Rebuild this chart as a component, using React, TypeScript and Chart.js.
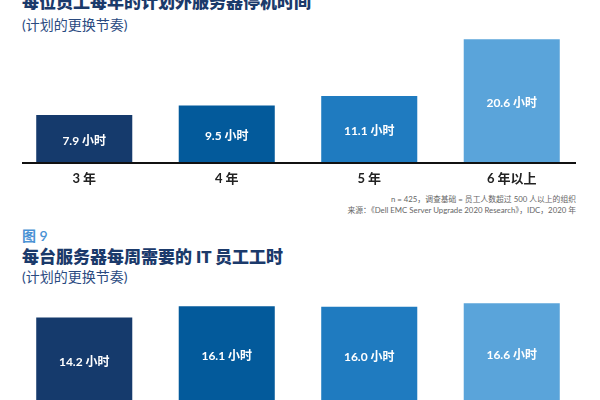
import React, { useEffect, useRef } from "react";
import { Chart, registerables } from "chart.js";

Chart.register(...registerables);

// ---- data ----
const categories = ["3 年", "4 年", "5 年", "6 年以上"];
const downtimeHours = [7.9, 9.5, 11.1, 20.6];
const staffHours = [14.2, 16.1, 16.0, 16.6];
const barColors = ["#153a6c", "#035a9b", "#1f7bc0", "#5aa4da"];
const unitLabel = "小时";
const yMax = 22;

const title1 = "每位员工每年的计划外服务器停机时间";
const subtitle = "(计划的更换节奏)";
const figLabel = "图 9";
const title2 = "每台服务器每周需要的 IT 员工工时";
const note1 = "n = 425，调查基础 = 员工人数超过 500 人以上的组织";
const note2 = "来源：《Dell EMC Server Upgrade 2020 Research》，IDC，2020 年";

const FONT = "Lato, 'Noto Sans CJK SC', sans-serif";

const valueLabels = {
  id: "valueLabels",
  afterDatasetsDraw(chart: any) {
    const meta = chart.getDatasetMeta(0);
    const ctx = chart.ctx;
    ctx.save();
    ctx.font = `bold 12px ${FONT}`;
    ctx.fillStyle = "#ffffff";
    ctx.textAlign = "center";
    ctx.textBaseline = "middle";
    meta.data.forEach((bar: any, i: number) => {
      const v = chart.data.datasets[0].data[i] as number;
      ctx.fillText(`${v.toFixed(1)} ${unitLabel}`, bar.x, (bar.y + bar.base) / 2 + 2.5);
    });
    ctx.restore();
  },
};

const baseline = {
  id: "baseline",
  afterDatasetsDraw(chart: any) {
    const { ctx, chartArea } = chart;
    const y = chart.scales.y.getPixelForValue(0) + 1;
    ctx.save();
    ctx.strokeStyle = "#111111";
    ctx.lineWidth = 2;
    ctx.beginPath();
    ctx.moveTo(chartArea.left + 9, y);
    ctx.lineTo(chartArea.right - 7, y);
    ctx.stroke();
    ctx.restore();
  },
};

function makeConfig(values: number[]): any {
  return {
    type: "bar",
    data: {
      labels: categories,
      datasets: [
        {
          data: values,
          backgroundColor: barColors,
          borderWidth: 0,
          categoryPercentage: 1,
          barPercentage: 0.674,
        },
      ],
    },
    options: {
      animation: false,
      responsive: false,
      devicePixelRatio: 1,
      layout: { padding: { top: 31, left: 13, right: 17, bottom: 0 } },
      plugins: { legend: { display: false }, tooltip: { enabled: false } },
      scales: {
        x: {
          grid: { display: false, drawTicks: false },
          border: { display: false },
          ticks: {
            font: { family: FONT, size: 13, weight: "bold" },
            color: "#222222",
            padding: 9,
          },
          afterFit: (s: any) => {
            s.height = 30;
          },
        },
        y: { display: false, min: 0, max: yMax },
      },
    },
    plugins: [valueLabels, baseline],
  };
}

function BarChart({ values, top }: { values: number[]; top: number }) {
  const ref = useRef<HTMLCanvasElement | null>(null);
  useEffect(() => {
    if (!ref.current) return;
    const chart = new Chart(ref.current, makeConfig(values));
    return () => chart.destroy();
  }, [values]);
  return (
    <canvas
      ref={ref}
      width={600}
      height={192}
      style={{ position: "absolute", left: 0, top, width: 600, height: 192, display: "block" }}
    />
  );
}

const textBase: React.CSSProperties = {
  position: "absolute",
  fontFamily: FONT,
  whiteSpace: "nowrap",
  margin: 0,
};

export default function App() {
  return (
    <div
      style={{
        position: "absolute",
        left: 0,
        top: 0,
        width: 600,
        height: 400,
        overflow: "hidden",
        background: "#ffffff",
      }}
    >
      <div style={{ ...textBase, left: 22, top: -7.5, fontSize: 17, lineHeight: "17px", fontWeight: 800, color: "#1b3a6b" }}>{title1}</div>
      <div style={{ ...textBase, left: 22, top: 17.5, fontSize: 14, lineHeight: "14px", color: "#2a4a7f" }}>{subtitle}</div>
      <BarChart values={downtimeHours} top={0} />
      <div style={{ ...textBase, right: 24, top: 195, fontSize: 7.8, lineHeight: "8px", color: "#666666", textAlign: "right" }}>{note1}</div>
      <div style={{ ...textBase, right: 24, top: 206, fontSize: 7.8, lineHeight: "8px", color: "#666666", textAlign: "right" }}>{note2}</div>
      <div style={{ ...textBase, left: 22, top: 229, fontSize: 14, lineHeight: "14px", fontWeight: 600, color: "#4a92d4" }}>{figLabel}</div>
      <div style={{ ...textBase, left: 22, top: 247.5, fontSize: 17, lineHeight: "17px", fontWeight: 800, color: "#1b3a6b" }}>{title2}</div>
      <div style={{ ...textBase, left: 22, top: 270, fontSize: 14, lineHeight: "14px", color: "#2a4a7f" }}>{subtitle}</div>
      <BarChart values={staffHours} top={240} />
    </div>
  );
}
